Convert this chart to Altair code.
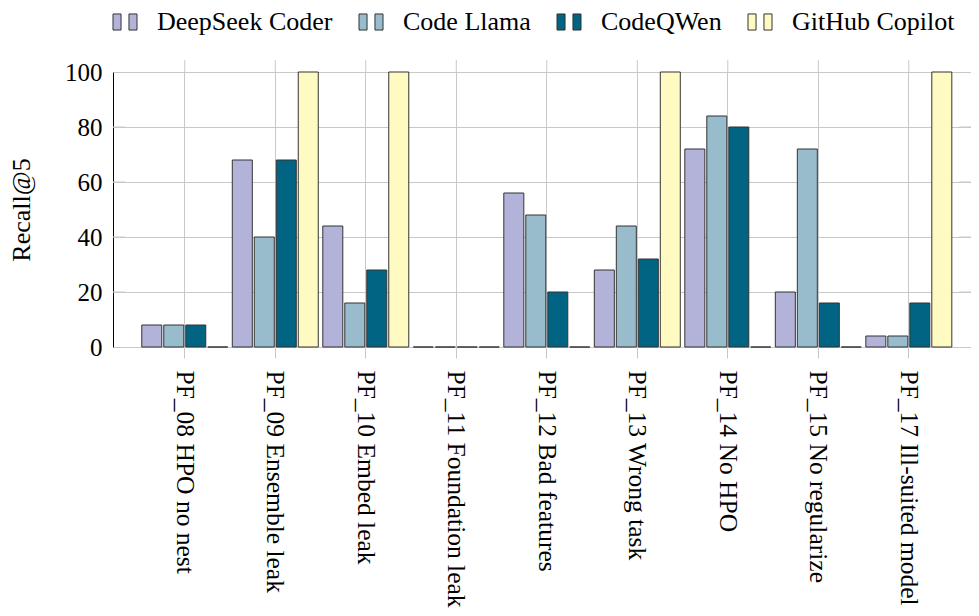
import altair as alt
import pandas as pd

categories = ["PF_08 HPO no nest", "PF_09 Ensemble leak", "PF_10 Embed leak",
              "PF_11 Foundation leak", "PF_12 Bad features", "PF_13 Wrong task",
              "PF_14 No HPO", "PF_15 No regularize", "PF_17 Ill-suited model"]
series = ["DeepSeek Coder", "Code Llama", "CodeQWen", "GitHub Copilot"]
deepseek = [8, 68, 44, 0, 56, 28, 72, 20, 4]
codellama = [8, 40, 16, 0, 48, 44, 84, 72, 4]
codeqwen = [8, 68, 28, 0, 20, 32, 80, 16, 16]
copilot = [0, 100, 100, 0, 0, 100, 0, 0, 100]
colors = ["#b3b3da", "#98bccb", "#006482", "#fff9c2"]
yticks = [0, 20, 40, 60, 80, 100]

rows = []
for s, vals in zip(series, [deepseek, codellama, codeqwen, copilot]):
    for c, v in zip(categories, vals):
        rows.append({"category": c, "series": s, "value": v})
df = pd.DataFrame(rows)
cat_df = pd.DataFrame({"category": categories})
ytick_df = pd.DataFrame({"value": yticks[1:-1]})

FONT = "Times, Liberation Serif, serif"
GRID = "#c8c8c8"
EDGE = "#333333"
W, H = 858, 275

xscale = alt.Scale(domain=categories, paddingInner=0.05, paddingOuter=0.265, align=0.6)
yscale = alt.Scale(domain=[0, 100], nice=False)

xaxis = alt.Axis(title=None, labelAngle=90, labelAlign="left", labelBaseline="middle",
                 labelPadding=12, tickSize=11, tickColor=GRID, domain=False,
                 grid=True, gridColor=GRID, bandPosition=0.5, labelFont=FONT,
                 labelFontSize=25.5, labelColor="black", labelLimit=400)
yaxis = alt.Axis(title="Recall@5", values=yticks, ticks=False, domain=False,
                 grid=True, gridColor=GRID, labelPadding=11, labelFont=FONT,
                 labelFontSize=25, labelColor="black", titleFont=FONT,
                 titleFontSize=26, titleFontWeight="normal", titleColor="black",
                 titlePadding=30)

legend = alt.Legend(title=None, orient="none", legendX=-1, legendY=-63,
                    direction="horizontal", labelFont=FONT, labelFontSize=26,
                    labelColor="black", labelOffset=19, columnPadding=24,
                    labelLimit=400,
                    symbolType="M-1,-0.67H-0.33V0.67H-1Z M0.33,-0.67H1V0.67H0.33Z",
                    symbolSize=576, symbolStrokeColor=EDGE,
                    symbolStrokeWidth=1, symbolOpacity=1)

bars = alt.Chart(df).mark_bar(stroke=EDGE, strokeWidth=1).encode(
    x=alt.X("category:N", sort=categories, scale=xscale, axis=xaxis),
    xOffset=alt.XOffset("series:N", sort=series,
                        scale=alt.Scale(domain=series, paddingInner=0.09, paddingOuter=0)),
    y=alt.Y("value:Q", scale=yscale, axis=yaxis),
    fill=alt.Fill("series:N", sort=series,
                  scale=alt.Scale(domain=series, range=colors), legend=legend),
)

top_ticks = alt.Chart(cat_df).mark_rule(color=GRID, strokeWidth=1).encode(
    x=alt.X("category:N", sort=categories, scale=xscale, axis=xaxis),
    y=alt.value(-12), y2=alt.value(0),
)

left_ticks = alt.Chart(ytick_df).mark_rule(color=GRID, strokeWidth=1).encode(
    y=alt.Y("value:Q", scale=yscale, axis=yaxis),
    x=alt.value(0), x2=alt.value(12),
)
right_ticks = alt.Chart(ytick_df).mark_rule(color=GRID, strokeWidth=1).encode(
    y=alt.Y("value:Q", scale=yscale, axis=yaxis),
    x=alt.value(W - 12), x2=alt.value(W),
)

chart = alt.layer(bars, top_ticks, left_ticks, right_ticks).properties(
    width=W, height=H,
    autosize=alt.AutoSizeParams(type="none"),
    padding={"left": 105, "top": 64, "right": 0, "bottom": 280},
).configure(
    background="white", font=FONT,
    style={"guide-label": {"font": FONT}, "guide-title": {"font": FONT}},
).configure_view(
    stroke="black", strokeWidth=1
).configure_axis(labelFont=FONT, titleFont=FONT).configure_legend(
    labelFont=FONT, titleFont=FONT
).configure_text(font=FONT)

chart.save("out.html", embed_options={"renderer": "svg", "actions": False})
